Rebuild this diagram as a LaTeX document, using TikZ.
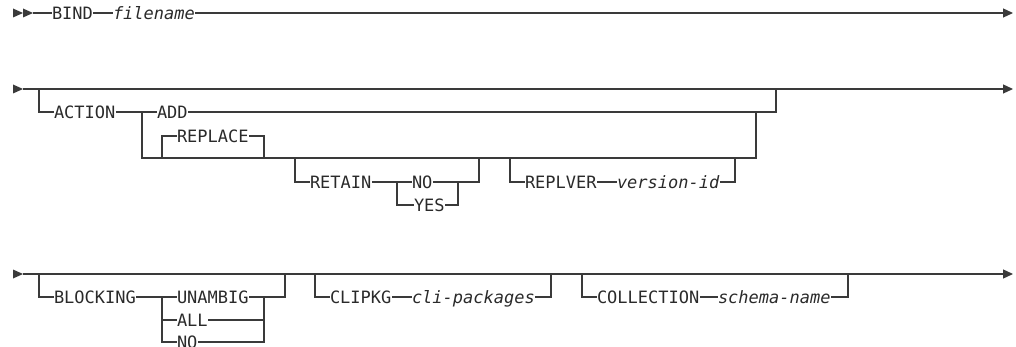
\documentclass[tikz,border=0pt]{standalone}
\usepackage{fontspec}
\usetikzlibrary{arrows.meta}
\newfontfamily\rrfont{DejaVu Sans Mono}
\definecolor{rrline}{HTML}{3A3A3A}
\definecolor{rrtext}{HTML}{2A2A2A}
\tikzset{
  kw/.style={font=\rrfont\fontsize{17}{18}\selectfont, text=rrtext, inner xsep=0.3pt, inner ysep=0pt, text height=12.4pt, text depth=0pt, anchor=west},
  var/.style={kw, font=\rrfont\itshape\fontsize{17}{18}\selectfont},
  rail/.style={draw=rrline, line width=1.2pt},
  endarrow/.style={-{Triangle[length=10pt,width=9pt]}},
}
\begin{document}
\begin{tikzpicture}[x=1pt,y=-1pt]
\useasboundingbox (0,0) rectangle (1016,347);
% ---------- row 1
\fill[rrline] (13,8.5) -- (23,13) -- (13,17.5) -- cycle;
\fill[rrline] (23,8.5) -- (33,13) -- (23,17.5) -- cycle;
\coordinate (s1) at (33,13);
\coordinate (e1) at (1013,13);
\node[kw] (bind) at (51.5,13) {BIND};
\node[var] (fn) at (112.5,13) {filename};
\draw[rail] (s1) -- (bind.west);
\draw[rail] (bind.east) -- (fn.west);
\draw[rail,endarrow] (fn.east) -- (e1);
% ---------- row 2
\fill[rrline] (13,84.5) -- (23,89) -- (13,93.5) -- cycle;
\coordinate (s2) at (23,89);
\coordinate (e2) at (1013,89);
\draw[rail,endarrow] (s2) -- (e2);
\node[kw] (action) at (53.5,112) {ACTION};
\node[kw] (add) at (156.5,112) {ADD};
\node[kw] (replace) at (176.5,136) {REPLACE};
\node[kw] (retain) at (309.5,182) {RETAIN};
\node[kw] (no1) at (411.5,182) {NO};
\node[kw] (yes1) at (413.5,205) {YES};
\node[kw] (replver) at (524.5,182) {REPLVER};
\node[var] (vid) at (616.5,182) {version-id};
\coordinate (a0) at (39,89);
\coordinate (a1) at (776,89);
\coordinate (b0) at (142,112);
\coordinate (b1) at (142,158);
\coordinate (b2) at (756,158);
\coordinate (b3) at (756,112);
\coordinate (c0) at (162,158);
\coordinate (c1) at (264,158);
\coordinate (d0) at (295,158);
\coordinate (d1) at (479,158);
\coordinate (d2) at (397,182);
\coordinate (d3) at (458,182);
\coordinate (f0) at (510,158);
\coordinate (f1) at (735,158);
\draw[rail] (a0) |- (action.west);
\draw[rail] (action.east) -- (add.west);
\draw[rail] (add.east) -| (a1);
\draw[rail] (b0) -- (b1) -- (b2) -- (b3);
\draw[rail] (c0) |- (replace.west);
\draw[rail] (replace.east) -| (c1);
\draw[rail] (d0) |- (retain.west);
\draw[rail] (retain.east) -- (no1.west);
\draw[rail] (no1.east) -| (d1);
\draw[rail] (d2) |- (yes1.west);
\draw[rail] (yes1.east) -| (d3);
\draw[rail] (f0) |- (replver.west);
\draw[rail] (replver.east) -- (vid.west);
\draw[rail] (vid.east) -| (f1);
% ---------- row 3
\fill[rrline] (13,269.5) -- (23,274) -- (13,278.5) -- cycle;
\coordinate (s3) at (23,274);
\coordinate (e3) at (1013,274);
\draw[rail,endarrow] (s3) -- (e3);
\node[kw] (blocking) at (53.5,297) {BLOCKING};
\node[kw] (unambig) at (176.5,297) {UNAMBIG};
\node[kw] (all) at (176.5,320) {ALL};
\node[kw] (no2) at (176.5,342) {NO};
\node[kw] (clipkg) at (329.5,297) {CLIPKG};
\node[var] (clip) at (411.5,297) {cli-packages};
\node[kw] (coll) at (596.5,297) {COLLECTION};
\node[var] (schema) at (717.5,297) {schema-name};
\coordinate (g0) at (39,274);
\coordinate (g1) at (285,274);
\coordinate (h0) at (162,297);
\coordinate (h1) at (162,342);
\coordinate (h2) at (264,297);
\coordinate (h3) at (264,342);
\coordinate (h4) at (264,320);
\coordinate (k0) at (315,274);
\coordinate (k1) at (551,274);
\coordinate (m0) at (582,274);
\coordinate (m1) at (848,274);
\draw[rail] (g0) |- (blocking.west);
\draw[rail] (blocking.east) -- (unambig.west);
\draw[rail] (unambig.east) -| (g1);
\draw[rail] (h0) -- (h1) -- (no2.west);
\draw[rail] (h0 |- all.west) -- (all.west);
\draw[rail] (all.east) -- (h4);
\draw[rail] (no2.east) -- (h3) -- (h2);
\draw[rail] (k0) |- (clipkg.west);
\draw[rail] (clipkg.east) -- (clip.west);
\draw[rail] (clip.east) -| (k1);
\draw[rail] (m0) |- (coll.west);
\draw[rail] (coll.east) -- (schema.west);
\draw[rail] (schema.east) -| (m1);
\end{tikzpicture}
\end{document}
